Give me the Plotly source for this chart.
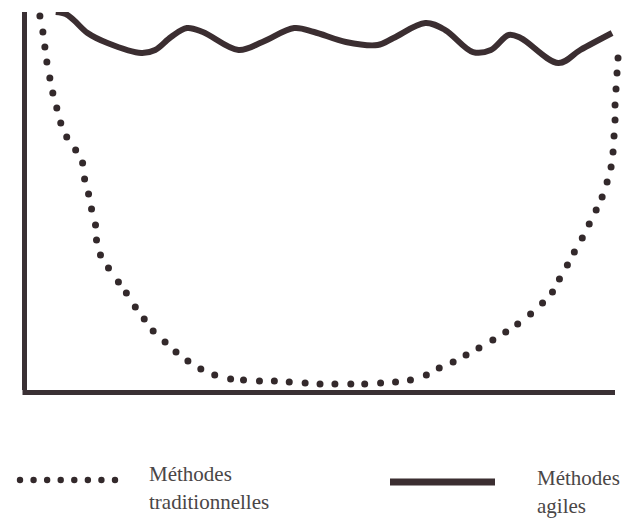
import plotly.graph_objects as go

# ---- data (arbitrary units: x = time 0..100, y = value 0..100) ----
trad_x = [1.87, 2.38, 2.72, 3.06, 3.57, 4.08, 4.76, 5.44, 6.46, 7.99, 9.18, 9.52, 10.20, 10.71,
          11.39, 11.56, 12.24, 13.61, 15.31, 16.67, 18.20, 19.73, 21.26, 23.30, 25.17, 27.21,
          29.42, 31.80, 34.52, 36.73, 39.46, 42.01, 44.56, 47.28, 49.83, 52.38, 55.10, 57.48,
          60.20, 62.76, 65.31, 68.03, 70.24, 72.62, 74.83, 77.04, 79.42, 81.63, 83.67, 85.88,
          87.93, 89.63, 90.82, 92.18, 93.37, 94.73, 95.92, 97.11, 98.13, 98.98, 99.66, 100.0,
          100.17, 100.34, 100.34, 100.51, 100.68, 100.85]
trad_y = [98.95, 94.74, 90.79, 86.84, 82.63, 78.68, 74.74, 70.79, 67.11, 63.68, 60.26, 56.05,
          52.11, 48.16, 43.95, 40.0, 36.05, 32.63, 28.95, 26.05, 22.37, 19.21, 16.05, 13.16,
          10.53, 8.16, 6.05, 4.47, 3.42, 3.16, 2.89, 2.89, 2.63, 2.37, 2.11, 2.11, 2.11, 2.11,
          2.37, 2.63, 3.16, 4.47, 6.32, 7.89, 9.74, 11.58, 13.68, 15.79, 17.89, 20.53, 23.42,
          26.32, 29.74, 33.42, 36.84, 40.53, 44.21, 47.89, 51.32, 55.26, 59.21, 63.16, 67.37,
          71.58, 75.53, 79.74, 83.95, 87.89]

agile_x = [4.59, 6.29, 7.65, 10.03, 13.44, 19.22, 21.6, 24.32, 27.04, 29.76, 35.88, 39.97,
           45.41, 48.81, 54.25, 59.69, 62.41, 67.86, 71.26, 76.02, 79.08, 82.14, 84.18, 90.65,
           94.39, 99.83]
agile_y = [100.0, 99.47, 97.89, 94.47, 91.84, 89.21, 90.0, 93.42, 95.79, 94.74, 90.0, 92.11,
           95.79, 94.74, 92.11, 91.32, 93.16, 97.11, 95.26, 89.47, 90.0, 93.95, 93.16, 86.58,
           90.0, 94.47]

labels = ["Méthodes traditionnelles", "Méthodes agiles"]

INK = "#33292b"
TEXT = "#4a4646"
AXIS = "#3a3034"

fig = go.Figure()
fig.add_trace(go.Scatter(x=agile_x, y=agile_y, mode="lines", name=labels[1],
                         line=dict(color="#3b2e31", width=6, shape="spline", smoothing=1.0),
                         cliponaxis=False, showlegend=False))
fig.add_trace(go.Scatter(x=trad_x, y=trad_y, mode="markers", name=labels[0],
                         marker=dict(color=INK, size=7), cliponaxis=False, showlegend=False))

# ---- layout geometry (pixels) ----
L, R, T, B = 27, 621, 12, 390
W, H = R - L, B - T
def px(x):
    return (x - L) / W
def py(y):
    return (B - y) / H

shapes = []
# bottom axis line
shapes.append(dict(type="line", xref="paper", yref="paper",
                   x0=px(22.5), x1=px(615), y0=py(392.5), y1=py(392.5),
                   line=dict(color=AXIS, width=5)))
# legend samples
for i in range(8):
    cx = 20 + i * (115 - 20) / 7
    shapes.append(dict(type="circle", xref="paper", yref="paper",
                       xsizemode="pixel", ysizemode="pixel",
                       xanchor=px(cx), yanchor=py(480),
                       x0=-3.2, x1=3.2, y0=-3.2, y1=3.2,
                       fillcolor=INK, line=dict(width=0)))
shapes.append(dict(type="line", xref="paper", yref="paper",
                   x0=px(390), x1=px(495), y0=py(482), y1=py(482),
                   line=dict(color="#3b2e31", width=7)))

font = dict(family="Liberation Serif, Times New Roman, DejaVu Serif, serif", size=21, color=TEXT)
ann = [
    dict(text="Méthodes", x=px(147), y=py(474)),
    dict(text="traditionnelles", x=px(147), y=py(502)),
    dict(text="Méthodes", x=px(535), y=py(478)),
    dict(text="agiles", x=px(535), y=py(506)),
]
annotations = [dict(a, xref="paper", yref="paper", xanchor="left", yanchor="middle",
                    showarrow=False, font=font) for a in ann]

fig.update_layout(
    width=628, height=519,
    margin=dict(l=L, r=628 - R, t=T, b=519 - B),
    paper_bgcolor="white", plot_bgcolor="white",
    showlegend=False,
    font=dict(family="Liberation Serif, serif"),
    shapes=shapes, annotations=annotations,
    xaxis=dict(range=[-0.34, 100 + (R - 613) / 5.88], showline=False,
               showgrid=False, zeroline=False, showticklabels=False, ticks=""),
    yaxis=dict(range=[0.53, 100], showline=True, linewidth=5, linecolor=AXIS,
               showgrid=False, zeroline=False, showticklabels=False, ticks=""),
)

fig.write_html("out.html", config={"displayModeBar": False},
               post_script="document.body.style.margin='0';document.body.style.overflow='hidden';")
